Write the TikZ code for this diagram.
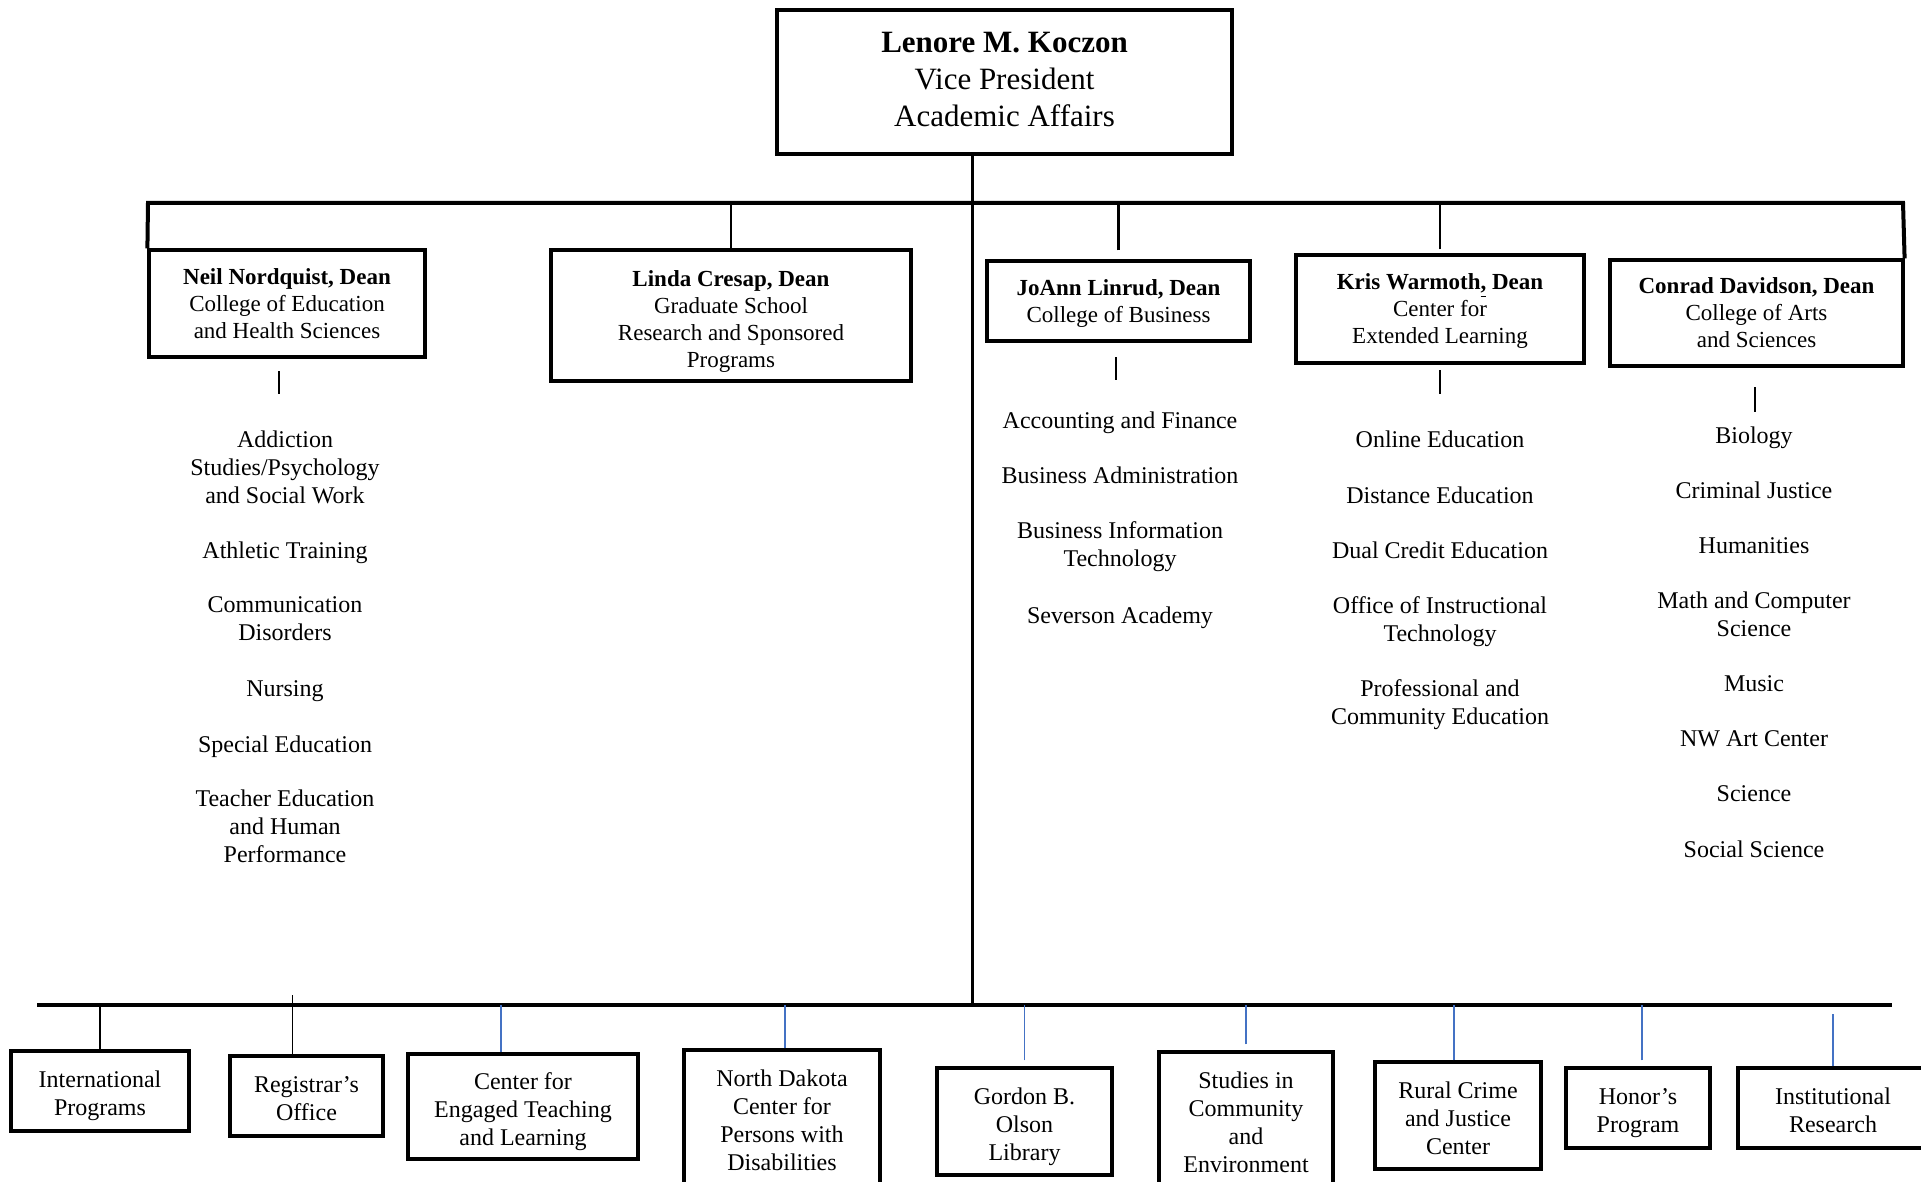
\documentclass[tikz,border=0pt]{standalone}
\usepackage{fontspec}
\setmainfont{Liberation Serif}
\usepackage{tikz}
\definecolor{linkblue}{RGB}{68,114,196}

\begin{document}
\begin{tikzpicture}[x=0.5pt, y=-0.5pt,
  vp/.style={draw, line width=1.8pt, align=center, inner sep=0pt, text depth=2.5pt, font=\fontsize{15.5}{18.5}\selectfont},
  dean/.style={draw, line width=1.6pt, align=center, inner sep=0pt, text depth=0pt, font=\fontsize{11.5}{13.5}\selectfont},
  unit/.style={draw, line width=1.6pt, align=center, inner sep=0pt, text depth=0pt, font=\fontsize{12}{14}\selectfont},
  item/.style={align=center, inner sep=0pt, text depth=0pt, font=\fontsize{12}{14}\selectfont},
  twolines/.style={text height=24.7pt},
  threelines/.style={text height=38.7pt},
  fourlines/.style={text height=52.7pt},
  bar/.style={line width=2pt},
  stem/.style={line width=1.5pt},
  drop/.style={line width=1.3pt},
  thin/.style={line width=0.9pt},
  tick/.style={line width=0.6pt},
  bluedrop/.style={linkblue, line width=0.8pt}]
\useasboundingbox (0,0) rectangle (1921,1182);
\clip (0,0) rectangle (1921,1182);

\node[vp, minimum width=227.5pt, minimum height=72pt] (vp) at (1004.5,82) {\textbf{Lenore M. Koczon}\\Vice President\\Academic Affairs};

% deans
\node[dean, minimum width=138pt, minimum height=53.5pt] (neil) at (287,303.5) {\textbf{Neil Nordquist, Dean}\\College of Education\\and Health Sciences};
\node[dean, text height=52pt, minimum width=180pt, minimum height=65.5pt] (linda) at (731,315.5) {\textbf{Linda Cresap, Dean}\\Graduate School\\Research and Sponsored\\Programs};
\node[dean, minimum width=131.5pt, minimum height=40pt] (joann) at (1118.5,301) {\textbf{JoAnn Linrud, Dean}\\College of Business};
\node[dean, minimum width=144pt, minimum height=54pt] (kris) at (1440,309) {\textbf{Kris Warmoth\underline{,} Dean}\\Center for\\Extended Learning};
\node[dean, minimum width=146.5pt, minimum height=53pt] (conrad) at (1756.5,313) {\textbf{Conrad Davidson, Dean}\\College of Arts\\and Sciences};

% departments
\node[item] (addict) at (285,467) {Addiction\\Studies/Psychology\\and Social Work};
\node[item] (athl) at (285,550) {Athletic Training};
\node[item] (comm) at (285,619) {Communication\\Disorders};
\node[item] (nurs) at (285,689) {Nursing};
\node[item] (sped) at (285,744) {Special Education};
\node[item] (teach) at (285,826) {Teacher Education\\and Human\\Performance};

\node[item] (acct) at (1120,420) {Accounting and Finance};
\node[item] (badm) at (1120,475) {Business Administration};
\node[item] (bit) at (1120,544.5) {Business Information\\Technology};
\node[item] (sev) at (1120,615) {Severson Academy};

\node[item] (online) at (1440,439) {Online Education};
\node[item] (dist) at (1440,495) {Distance Education};
\node[item] (dual) at (1440,550) {Dual Credit Education};
\node[item] (oit) at (1440,619) {Office of Instructional\\Technology};
\node[item] (prof) at (1440,702.5) {Professional and\\Community Education};

\node[item] (bio) at (1754,435) {Biology};
\node[item] (crim) at (1754,490) {Criminal Justice};
\node[item] (hum) at (1754,546) {Humanities};
\node[item] (math) at (1754,614) {Math and Computer\\Science};
\node[item] (music) at (1754,684) {Music};
\node[item] (nwart) at (1754,739) {NW Art Center};
\node[item] (sci) at (1754,794) {Science};
\node[item] (soc) at (1754,849) {Social Science};

% offices
\node[unit, twolines, minimum width=89pt, minimum height=40pt] (intl) at (100,1091) {International\\Programs};
\node[unit, twolines, minimum width=76.5pt, minimum height=40pt] (reg) at (306.5,1096) {Registrar's\\Office};
\node[unit, threelines, minimum width=115pt, minimum height=52.5pt] (cetl) at (523,1106.5) {Center for\\Engaged Teaching\\and Learning};
\node[unit, fourlines, minimum width=98pt, minimum height=68pt] (ndcpd) at (782,1118) {North Dakota\\Center for\\Persons with\\Disabilities};
\node[unit, threelines, minimum width=87.5pt, minimum height=53.5pt] (library) at (1024.5,1121.5) {Gordon B.\\Olson\\Library};
\node[unit, fourlines, minimum width=87pt, minimum height=68pt] (studies) at (1246,1120) {Studies in\\Community\\and\\Environment};
\node[unit, threelines, minimum width=83pt, minimum height=53.5pt] (rural) at (1458,1115.5) {Rural Crime\\and Justice\\Center};
\node[unit, twolines, minimum width=72pt, minimum height=40pt] (honor) at (1638,1108) {Honor's\\Program};
\node[unit, twolines, minimum width=95pt, minimum height=40pt] (inst) at (1833,1108) {Institutional\\Research};

\coordinate (topL) at (148,203);
\coordinate (topR) at (1903,203);
\coordinate (botL) at (37,1005);
\coordinate (botR) at (1892,1005);
\coordinate (stem) at (972,1005);
\coordinate (neilT) at (279,371);
\coordinate (joannT) at (1116,357);
\coordinate (krisT) at (1440,370);
\coordinate (conradT) at (1755,387);

\draw[bar] (neil.north west) -- (topL) -- (topR) -- (conrad.north east);
\draw[bar] (botL) -- (botR);
\draw[stem] (vp.south -| stem) -- (stem);

\draw[drop] (linda.north) -- (linda.north |- topL);
\draw[drop, shorten <=4.5pt] (joann.north) -- (joann.north |- topL);
\draw[drop, shorten <=2pt] (kris.north) -- (kris.north |- topL);

\draw[tick] (neilT) -- ++(0,23);
\draw[tick] (joannT) -- ++(0,23);
\draw[tick] (krisT) -- ++(0,24);
\draw[tick] (conradT) -- ++(0,25);

\draw[thin] (intl.north) -- (intl.north |- botL);
\draw[thin] ([xshift=-7pt]reg.north) -- ++(0,-59);
\draw[bluedrop] ([xshift=-11pt]cetl.north) -- ([xshift=-11pt]cetl.north |- botL);
\draw[bluedrop] ([xshift=1.5pt]ndcpd.north) -- ([xshift=1.5pt]ndcpd.north |- botL);
\draw[bluedrop, shorten <=3pt] (library.north) -- (library.north |- botL);
\draw[bluedrop, shorten <=3pt] (studies.north) -- (studies.north |- botL);
\draw[bluedrop] ([xshift=-2pt]rural.north) -- ([xshift=-2pt]rural.north |- botL);
\draw[bluedrop, shorten <=3pt] ([xshift=2pt]honor.north) -- ([xshift=2pt]honor.north |- botL);
\draw[bluedrop, shorten >=4.5pt] (inst.north) -- (inst.north |- botL);
\end{tikzpicture}
\end{document}
